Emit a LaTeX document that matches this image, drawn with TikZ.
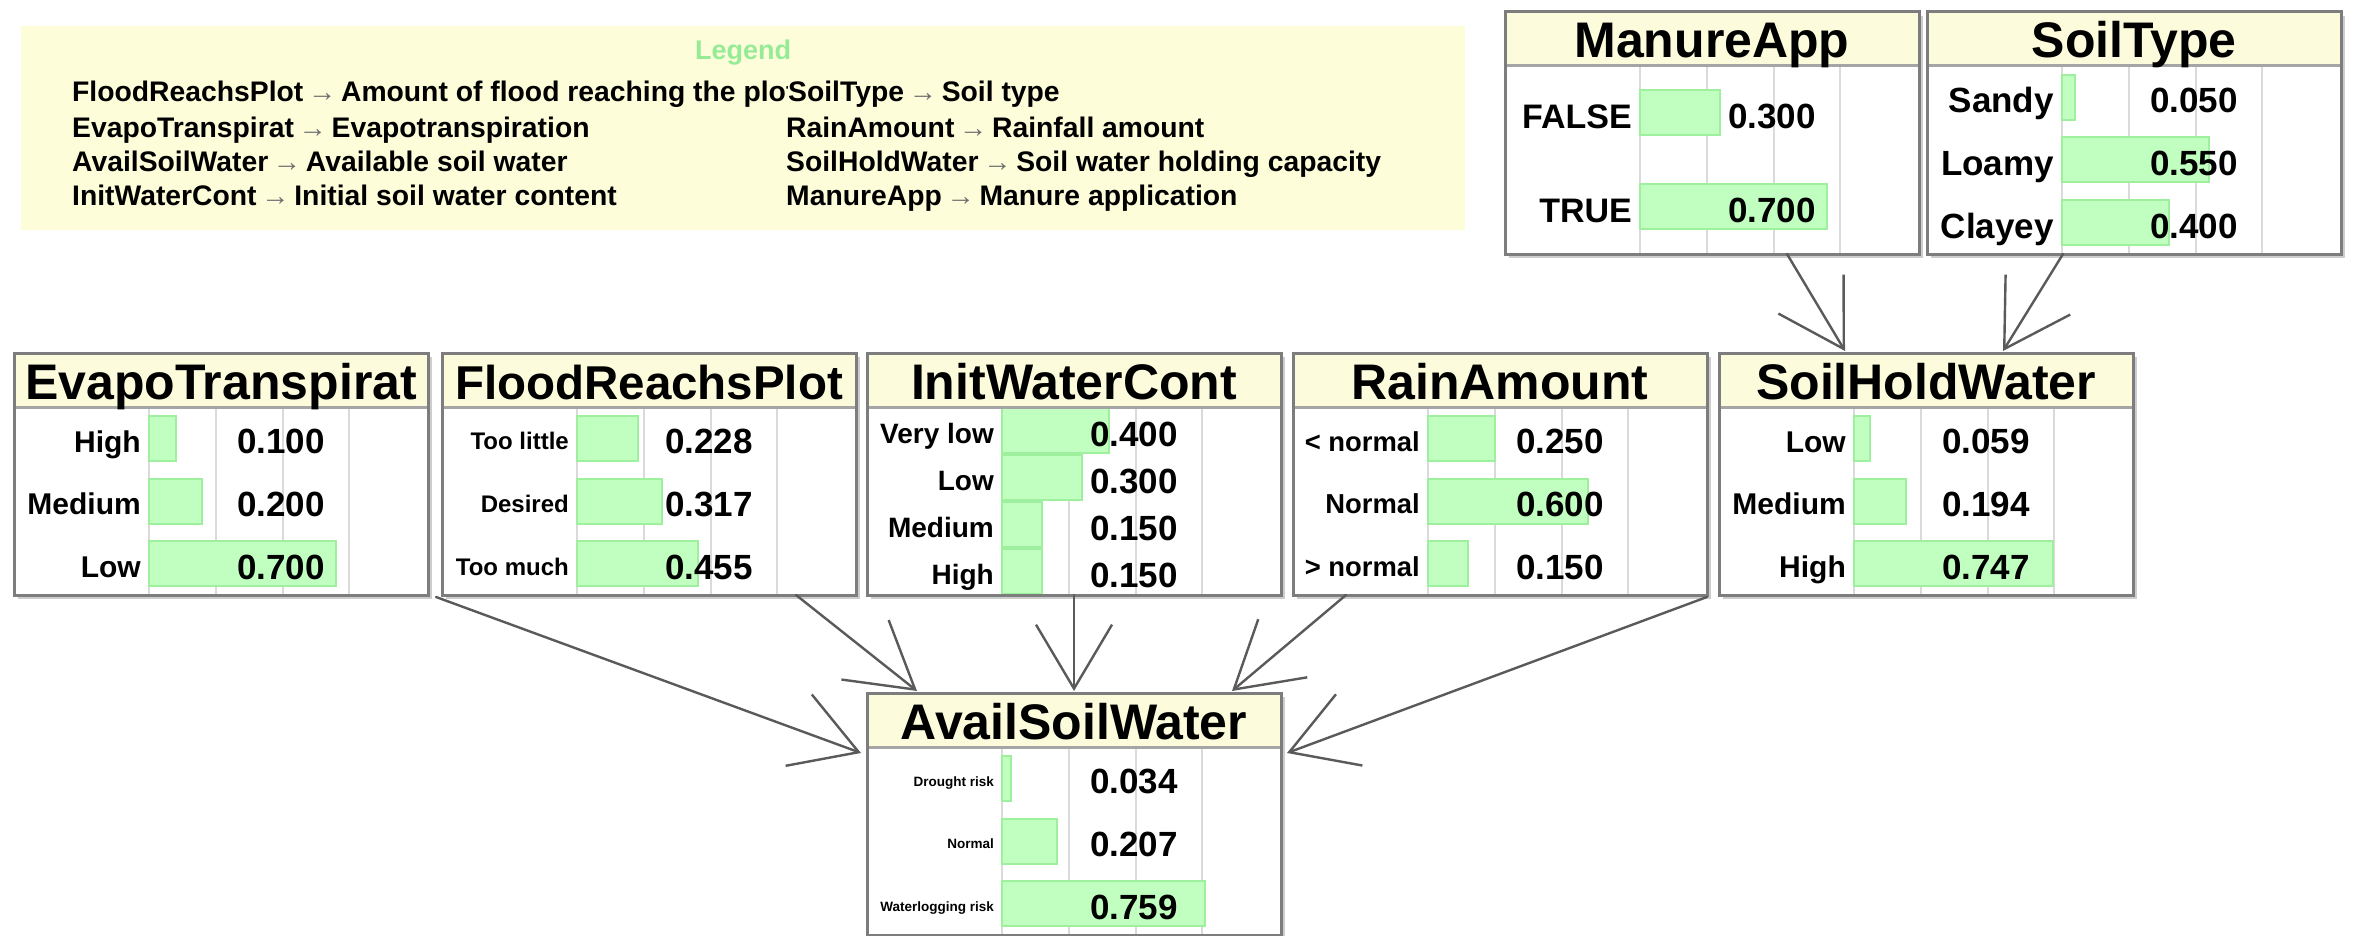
\documentclass[tikz,border=0pt]{standalone}
\usepackage{fontspec}
\setmainfont{Liberation Sans}
\usetikzlibrary{calc,arrows.meta}

\definecolor{titlefill}{RGB}{252,252,220}
\definecolor{legendfill}{RGB}{253,253,218}
\definecolor{framegray}{RGB}{125,125,125}
\definecolor{shadowgray}{RGB}{205,205,205}
\definecolor{sepgray}{RGB}{165,165,165}
\definecolor{gridgray}{RGB}{218,218,218}
\definecolor{barfill}{RGB}{192,255,192}
\definecolor{baredge}{RGB}{158,240,158}
\definecolor{linkgray}{RGB}{90,90,90}
\definecolor{legendgreen}{RGB}{150,236,150}
\definecolor{arrowgray}{RGB}{110,110,110}

% bold text at a size given in picture units (1 unit = 1pt)
\newcommand\pxfont[1]{\fontsize{#1}{#1}\selectfont\bfseries}
\newcommand\legarrow{\textcolor{arrowgray}{\mdseries\,→\,}}

% geometry of a belief box
\def\boxw{414}
\def\boxh{242}
\def\bandh{54}
\def\barx{135}
\def\barlen{267}
\def\labx{127}
\def\valx{311}

\tikzset{
  nodebox/.style={minimum width=\boxw, minimum height=\boxh, inner sep=0, outer sep=0},
  frame/.style={draw=framegray, line width=3pt},
  sepline/.style={draw=sepgray, line width=3pt},
  gridline/.style={draw=gridgray, line width=2pt},
  bar/.style={fill=barfill, draw=baredge, line width=2pt},
  legtext/.style={anchor=mid west, inner sep=0, font=\pxfont{28.3}},
  link/.style={draw=linkgray, line width=2.4pt, line cap=round,
    -{Straight Barb[length=64pt, width=76pt, line width=2.4pt]}},
}

% #1 name, #2 left, #3 top, #4 title, #5 title size, #6 label size,
% #7 number of states, #8 states as label/probability
\newcommand\bnnode[8]{%
  \node[nodebox, anchor=north west] (#1) at (#2,#3) {};
  \fill[shadowgray] ($(#1.north west)+(4,4)$) rectangle ($(#1.south east)+(4,4)$);
  \fill[white] (#1.north west) rectangle (#1.south east);
  \fill[titlefill] (#1.north west) rectangle ($(#1.north east)+(0,\bandh)$);
  \foreach \k in {0,1,2,3}
    \draw[gridline] ($(#1.north west)+(\barx+\k*\barlen/4,\bandh)$)
      -- ($(#1.south west)+(\barx+\k*\barlen/4,0)$);
  \pgfmathsetmacro\slot{(\boxh-\bandh)/#7}
  \pgfmathsetmacro\barh{min(45,\slot-2)}
  \pgfmathsetmacro\labdrop{0.36*#6+3}
  \foreach \lab/\val [count=\i from 0] in {#8} {
    \pgfmathsetmacro\yc{\bandh+\slot*(\i+0.5)}
    \filldraw[bar] ($(#1.north west)+(\barx,\yc-\barh/2)$) rectangle ++(\val*\barlen,\barh);
    \node[anchor=base east, inner sep=0, font=\pxfont{#6}] (#1-l\i) at ($(#1.north west)+(\labx,\yc+\labdrop)$) {\lab};
    \node[anchor=base east, inner sep=0, font=\pxfont{35}] (#1-v\i) at ($(#1.north west)+(\valx,\yc+15.5)$) {\val};
  }
  \draw[sepline] ($(#1.north west)+(0,\bandh)$) -- ($(#1.north east)+(0,\bandh)$);
  \node[anchor=base, inner sep=0, font=\pxfont{#5}] (#1-title) at ($(#1.north)+(0,46)$) {#4};
  \draw[frame] (#1.north west) rectangle (#1.south east);
}

\begin{document}
\begin{tikzpicture}[x=1pt, y=-1pt]
\useasboundingbox (0,0) rectangle (2356,936);
\fill[white] (0,0) rectangle (2356,936);

% legend
\fill[legendfill] (21,26) rectangle (1465,230);
\node[font=\pxfont{27}, text=legendgreen, inner sep=0] (legtitle) at (743,53) {Legend};
\begin{scope}
  \clip (21,26) rectangle (787,230);
  \node[legtext] (leg1) at (72,99) {FloodReachsPlot\legarrow Amount of flood reaching the plot};
\end{scope}
\node[legtext] (leg2) at (72,135) {EvapoTranspirat\legarrow Evapotranspiration};
\node[legtext] (leg3) at (72,169) {AvailSoilWater\legarrow Available soil water};
\node[legtext] (leg4) at (72,203) {InitWaterCont\legarrow Initial soil water content};
\node[legtext] (leg5) at (788,99) {SoilType\legarrow Soil type};
\node[legtext] (leg6) at (786,135) {RainAmount\legarrow Rainfall amount};
\node[legtext] (leg7) at (786,169) {SoilHoldWater\legarrow Soil water holding capacity};
\node[legtext] (leg8) at (786,203) {ManureApp\legarrow Manure application};

% belief boxes
\bnnode{manure}{1505}{12}{ManureApp}{50}{34}{2}{FALSE/0.300, TRUE/0.700}
\bnnode{soiltype}{1927}{12}{SoilType}{50}{35}{3}{Sandy/0.050, Loamy/0.550, Clayey/0.400}
\bnnode{evapo}{14}{353}{EvapoTranspirat}{50}{30}{3}{High/0.100, Medium/0.200, Low/0.700}
\bnnode{flood}{442}{353}{FloodReachsPlot}{47.5}{24}{3}{Too little/0.228, Desired/0.317, Too much/0.455}
\bnnode{initwater}{867}{353}{InitWaterCont}{50}{28}{4}{Very low/0.400, Low/0.300, Medium/0.150, High/0.150}
\bnnode{rain}{1293}{353}{RainAmount}{50}{27.4}{3}{< normal/0.250, Normal/0.600, > normal/0.150}
\bnnode{soilhold}{1719}{353}{SoilHoldWater}{50}{30}{3}{Low/0.059, Medium/0.194, High/0.747}
\bnnode{avail}{867}{693}{AvailSoilWater}{50}{13.5}{3}{Drought risk/0.034, Normal/0.207, Waterlogging risk/0.759}

% dependencies
\draw[link] ($(manure.south west)+(282,0)$) -- ($(soilhold.north west)+(126,-2)$);
\draw[link] ($(soiltype.south west)+(136,0)$) -- ($(soilhold.north west)+(284,-2)$);
\draw[link] ($(evapo.south east)+(8,2)$) -- ($(avail.north west)+(-6,60)$);
\draw[link] ($(flood.south west)+(354,0)$) -- ($(avail.north west)+(50,-2)$);
\draw[link] (initwater.south) -- ($(avail.north)+(0,-2)$);
\draw[link] ($(rain.south west)+(53,0)$) -- ($(avail.north east)+(-49,-2)$);
\draw[link] ($(soilhold.south west)+(-12,2)$) -- ($(avail.north east)+(6,60)$);
\end{tikzpicture}
\end{document}
